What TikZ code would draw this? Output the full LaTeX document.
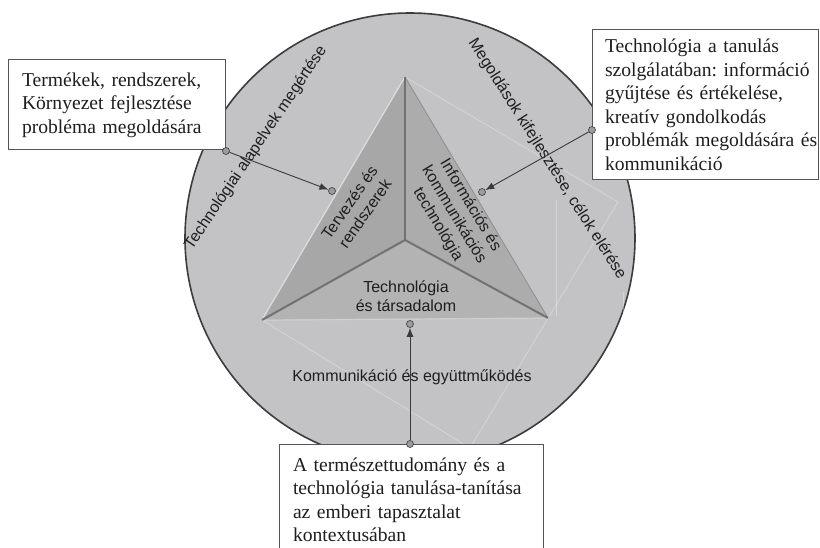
\documentclass[tikz,border=0pt]{standalone}
\usepackage{fontspec}
\setmainfont{Liberation Serif}[WordSpace=0.8]
\setsansfont{Liberation Sans}
\usetikzlibrary{arrows.meta}
\frenchspacing

\definecolor{disc}{HTML}{C3C3C5}
\definecolor{rimline}{HTML}{3C3C3C}
\definecolor{faceL}{HTML}{A7A7A8}
\definecolor{faceR}{HTML}{ACACAD}
\definecolor{faceB}{HTML}{B3B3B4}
\definecolor{ridge}{HTML}{727272}
\definecolor{edgegray}{HTML}{8E8E8E}
\definecolor{inktext}{HTML}{1E1E1E}
\definecolor{boxline}{HTML}{555555}
\definecolor{connline}{HTML}{3A3A3A}
\definecolor{dotfill}{HTML}{9C9C9C}

\begin{document}
\begin{tikzpicture}[x=1pt,y=-1pt,
  lbl/.style={font=\sffamily\fontsize{16}{19}\selectfont, text=inktext, align=center, inner sep=0pt},
  card/.style={draw=boxline, fill=white, line width=1pt, inner xsep=14pt, inner ysep=0pt,
    align=left, text=inktext, font=\rmfamily\fontsize{19.6}{23.5}\selectfont},
  faint/.style={draw=white, line width=0.8pt, opacity=0.3},
  dot/.style={circle, draw=connline, fill=dotfill, line width=0.6pt, inner sep=0pt, minimum size=7pt},
  conn/.style={draw=connline, line width=0.9pt, -{Latex[length=9pt,width=7pt]}}]
\useasboundingbox (0,0) rectangle (820,548);

% outer disc
\fill[disc] (410,238) circle[radius=225];
\draw[rimline, line width=1.6pt] (410,238) circle[radius=225];

% pyramid corners and faint base outline
\coordinate (apex) at (405,77);
\coordinate (mid) at (405,240);
\coordinate (bl) at (262,320);
\coordinate (br) at (548,318);
\coordinate (f1) at (618,202);
\coordinate (f2) at (470,448);
\draw[faint] (apex) -- (f1) -- (f2) -- (bl);
\draw[faint] (556,200) -- (556,316);
\draw[faint] (623,292) -- (623,332);

% pyramid faces
\fill[faceL] (apex) -- (mid) -- (bl) -- cycle;
\fill[faceR] (apex) -- (mid) -- (br) -- cycle;
\fill[faceB] (mid) -- (bl) -- (br) -- cycle;
\draw[white, opacity=0.55, line width=1.2pt] (bl) -- (apex);
\draw[white, opacity=0.3, line width=1.2pt] (bl) -- (br);
\draw[edgegray, line width=0.8pt] (apex) -- (br);
\draw[ridge, line width=2.6pt] (apex) -- (mid);
\draw[ridge, line width=2pt, line join=round] (bl) -- (mid) -- (br);

% labels
\node[lbl, rotate=55] (tervezes) at (357,208) {Tervezés és\\rendszerek};
\node[lbl, rotate=-59] (ikt) at (454,215) {Információs és\\kommunikációs\\technológia};
\node[lbl] (tarsadalom) at (406,296) {Technológia\\és társadalom};
\node[lbl] (kommunikacio) at (412,377) {Kommunikáció és együttműködés};
\node[lbl, rotate=56] (alapelvek) at (256,148) {Technológiai alapelvek megértése};
\node[lbl, rotate=-57.6] (megoldasok) at (547,159) {Megoldások kifejlesztése, célok elérése};

% text boxes
\node[card, minimum width=217pt, minimum height=90pt, text width=189pt] (lbox) at (116.5,105)
  {\mbox{Termékek, rendszerek,}\\\mbox{Környezet fejlesztése}\\\mbox{probléma megoldására}};
\node[card, minimum width=226pt, minimum height=150pt, text width=200pt, inner xsep=13pt] (rbox) at (705,105)
  {\mbox{Technológia a tanulás}\\\mbox{szolgálatában: információ}\\\mbox{gyűjtése és értékelése,}\\\mbox{kreatív gondolkodás}\\\mbox{problémák megoldására és}\\\mbox{kommunikáció}};
\node[card, minimum width=264pt, minimum height=112pt, text width=236pt] (bbox) at (411,500)
  {\mbox{A természettudomány és a}\\\mbox{technológia tanulása-tanítása}\\\mbox{az emberi tapasztalat}\\\mbox{kontextusában}};

% connectors
\node[dot] (la) at (226,151) {};
\node[dot] (lb) at (332,191) {};
\node[dot] (ra) at (592,130) {};
\node[dot] (rb) at (482,192) {};
\node[dot] (ba) at (410,444) {};
\node[dot] (bb) at (410,324) {};
\draw[conn] (la) -- (lb);
\draw[conn] (ra) -- (rb);
\draw[conn] (ba) -- (bb);
\end{tikzpicture}
\end{document}
